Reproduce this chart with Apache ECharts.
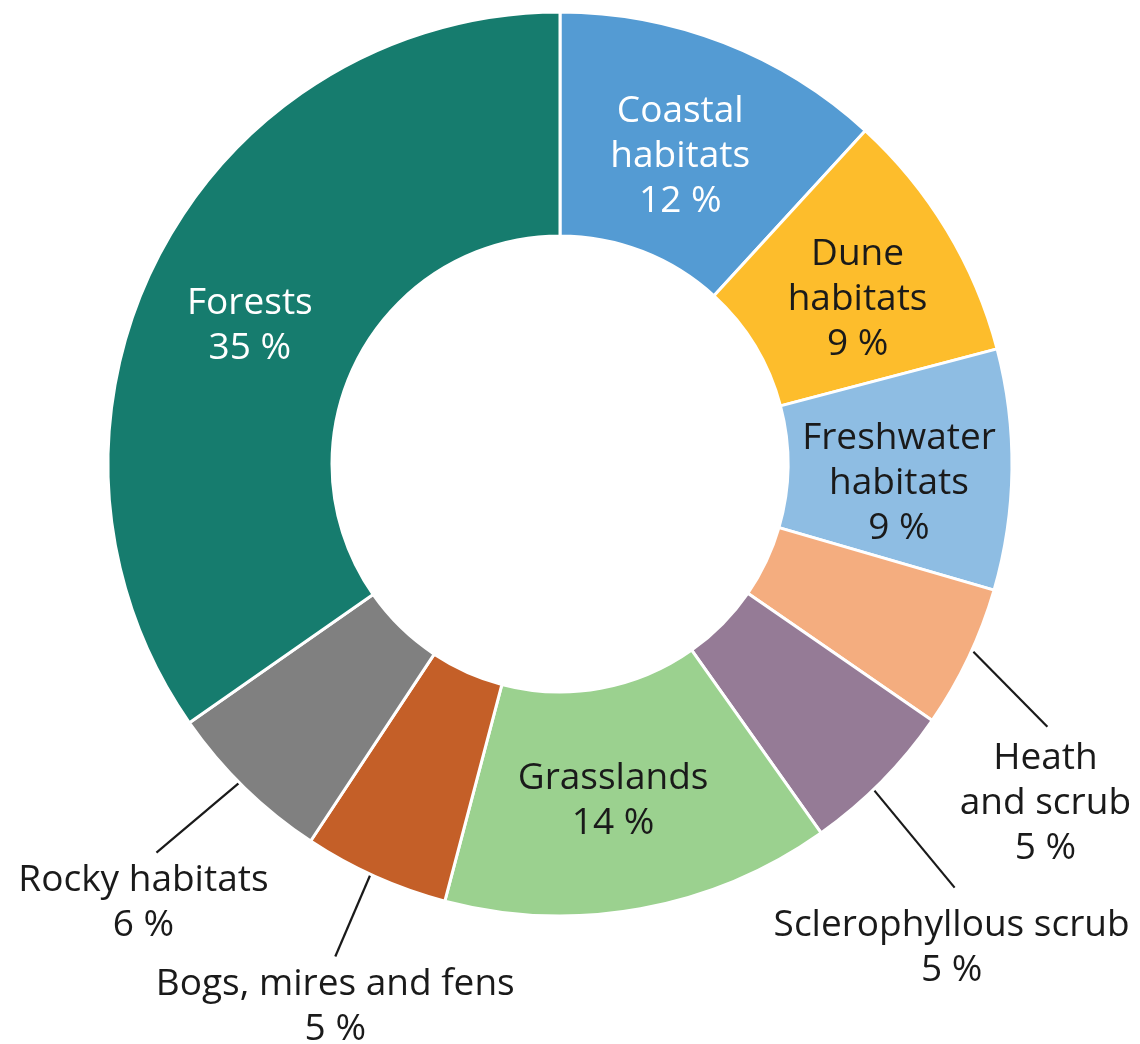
<!DOCTYPE html>
<html>
<head>
<meta charset="utf-8">
<script src="https://cdn.jsdelivr.net/npm/echarts@6/dist/echarts.min.js"></script>
<style>
  html, body { margin: 0; padding: 0; background: #ffffff; }
  #chart { width: 1140px; height: 1044px; }
</style>
</head>
<body>
<div id="chart"></div>
<script>
// ---- data ----
const categories = ['Coastal habitats', 'Dune habitats', 'Freshwater habitats', 'Heath and scrub',
  'Sclerophyllous scrub', 'Grasslands', 'Bogs, mires and fens', 'Rocky habitats', 'Forests'];
const labelNames = ['Coastal\nhabitats', 'Dune\nhabitats', 'Freshwater\nhabitats', 'Heath\nand scrub',
  'Sclerophyllous scrub', 'Grasslands', 'Bogs, mires and fens', 'Rocky habitats', 'Forests'];
const values = [11.8, 9.1, 8.6, 5.1, 5.6, 13.9, 5.2, 6.0, 34.7];
const shownPercent = ['12', '9', '9', '5', '5', '14', '5', '6', '35'];

// ---- styles ----
const colors = ['#549bd3', '#fdbd2c', '#8ebde3', '#f4ad7f', '#957b96', '#9bd18f', '#c45f28', '#808080', '#167c6e'];
const labelColors = ['#ffffff', '#1a1a1a', '#1a1a1a', '#1a1a1a', '#1a1a1a', '#1a1a1a', '#1a1a1a', '#1a1a1a', '#ffffff'];
const outside = [false, false, false, true, true, false, true, true, false];
// small nudges for inside labels [dx, dy]
const insideNudge = { 0: [-4, 12], 1: [4, 13], 2: [-4, 15], 5: [-8, -1], 8: [-6, 21] };
// leader line style per outside label: [startDx, startDy, endDx, endDy, textDx, textDy] relative to slice edge anchor
const leaderStyle = {
  3: [5, -6, 79, 69, -2, 9],
  4: [-8, 8, 73, 106, -3, 15],
  6: [-4, -4, -40, 80, 0, 5],
  7: [-5, -5, -88, 65, -13, 5]
};

const chart = echarts.init(document.getElementById('chart'), null, { renderer: 'canvas' });

const seriesData = categories.map((name, i) => ({
  name: name,
  value: values[i],
  itemStyle: { color: colors[i] },
  label: Object.assign({
    position: outside[i] ? 'outside' : 'inside',
    color: labelColors[i]
  }, insideNudge[i] ? { offset: insideNudge[i] } : {}),
  labelLine: { show: outside[i] }
}));

chart.setOption({
  backgroundColor: '#ffffff',
  animation: false,
  series: [{
    type: 'pie',
    center: [560, 464],
    radius: [228, 452],
    startAngle: 90,
    clockwise: true,
    avoidLabelOverlap: false,
    itemStyle: { borderColor: '#ffffff', borderWidth: 3 },
    emphasis: { disabled: true },
    label: {
      show: true,
      fontFamily: 'Open Sans',
      fontSize: 37,
      lineHeight: 45,
      align: 'center',
      formatter: function (p) {
        return labelNames[p.dataIndex] + '\n' + shownPercent[p.dataIndex] + ' %';
      }
    },
    labelLine: {
      length: 60,
      length2: 0,
      lineStyle: { color: '#1a1a1a', width: 2.2 }
    },
    labelLayout: function (params) {
      const ls = leaderStyle[params.dataIndex];
      if (!ls || !params.labelLinePoints) return {};
      const p0 = params.labelLinePoints[0];
      const s = [p0[0] + ls[0], p0[1] + ls[1]];
      const e = [p0[0] + ls[2], p0[1] + ls[3]];
      return {
        x: e[0] + ls[4],
        y: e[1] + ls[5],
        align: 'center',
        verticalAlign: 'top',
        labelLinePoints: [s, e, e]
      };
    },
    data: seriesData
  }]
});
</script>
</body>
</html>
